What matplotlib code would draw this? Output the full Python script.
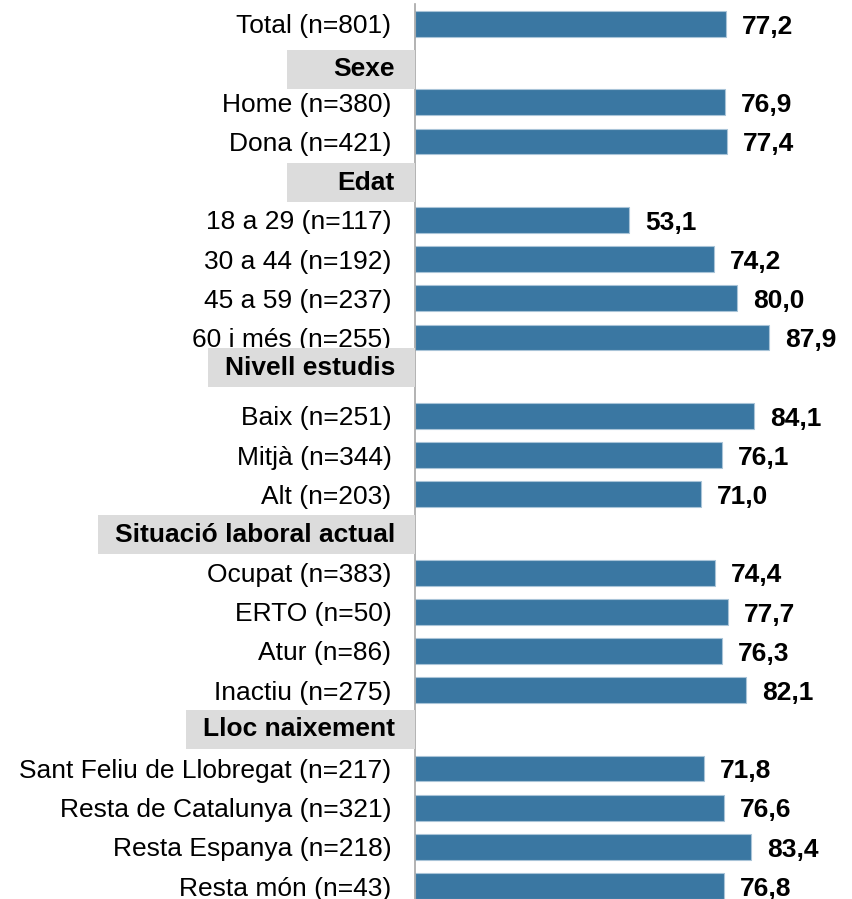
import matplotlib
matplotlib.use("Agg")
import matplotlib.pyplot as plt
from matplotlib.patches import Rectangle
from matplotlib.transforms import blended_transform_factory

plt.rcParams['font.family'] = ['Liberation Sans', 'DejaVu Sans']

# data
total_label = "Total (n=801)"
total_value = 77.2

group_names = ["Sexe", "Edat", "Nivell estudis", "Situació laboral actual", "Lloc naixement"]
sexe_labels = ["Home (n=380)", "Dona (n=421)"]
sexe_values = [76.9, 77.4]
edat_labels = ["18 a 29 (n=117)", "30 a 44 (n=192)", "45 a 59 (n=237)", "60 i més (n=255)"]
edat_values = [53.1, 74.2, 80.0, 87.9]
estudis_labels = ["Baix (n=251)", "Mitjà (n=344)", "Alt (n=203)"]
estudis_values = [84.1, 76.1, 71.0]
laboral_labels = ["Ocupat (n=383)", "ERTO (n=50)", "Atur (n=86)", "Inactiu (n=275)"]
laboral_values = [74.4, 77.7, 76.3, 82.1]
naix_labels = ["Sant Feliu de Llobregat (n=217)", "Resta de Catalunya (n=321)",
               "Resta Espanya (n=218)", "Resta món (n=43)"]
naix_values = [71.8, 76.6, 83.4, 76.8]

group_labels = [sexe_labels, edat_labels, estudis_labels, laboral_labels, naix_labels]
group_values = [sexe_values, edat_values, estudis_values, laboral_values, naix_values]

# small vertical nudges of the header boxes (in row units)
header_shift = [0.16, 0.05, -0.23, 0.03, 0.0]

BAR = "#3A77A2"
GREY_BOX = "#DCDCDC"
FS = 19

# build row layout: headers take a row of their own
bar_pos, bar_lab, bar_val, head_pos = [0], [total_label], [total_value], []
pos = 1
for lab, val in zip(group_labels, group_values):
    head_pos.append(pos)
    pos += 1
    for l, v in zip(lab, val):
        bar_pos.append(pos); bar_lab.append(l); bar_val.append(v)
        pos += 1
n_rows = pos

W, H = 853, 899
fig = plt.figure(figsize=(W / 100, H / 100), dpi=100)
ax_left, ax_right, ax_top = 415, 850, 4.4
ax = fig.add_axes([ax_left / W, 0, (ax_right - ax_left) / W, (H - ax_top) / H])

ax.barh(bar_pos, bar_val, height=0.66, color=BAR, edgecolor="#A9C4D8", linewidth=0.8, zorder=2)
for y, v in zip(bar_pos, bar_val):
    ax.annotate(f"{v:.1f}".replace(".", ","), (v, y), xytext=(11.5, -2),
                textcoords="offset points", ha="left", va="center",
                fontsize=FS, fontweight="bold", color="black")

ax.set_xlim(0, 108)
ax.set_ylim(n_rows - 1 + 0.33, -0.5)
ax.set_yticks(bar_pos)
ax.set_yticklabels(bar_lab, fontsize=FS)
ax.tick_params(axis="y", length=0, pad=17)
ax.set_xticks([])
for s in ["top", "right", "bottom"]:
    ax.spines[s].set_visible(False)
ax.spines["left"].set_color("#A6A6A6")
ax.spines["left"].set_linewidth(1.2)

# group headers with grey boxes reaching the axis line
trans = blended_transform_factory(ax.transAxes, ax.transData)
ax_w = ax_right - ax_left
fig.canvas.draw()
renderer = fig.canvas.get_renderer()
for name, p, sh in zip(group_names, head_pos, header_shift):
    y = p + sh
    t = ax.text(-20 / ax_w, y, name, transform=trans, ha="right", va="center",
                fontsize=FS, fontweight="bold", clip_on=False, zorder=5)
    bb = t.get_window_extent(renderer)
    left_px = min(bb.x0 - 17, ax_left - 128)
    x0 = (left_px - ax_left) / ax_w
    ax.add_patch(Rectangle((x0, y - 0.49), -x0, 0.98, transform=trans,
                           facecolor=GREY_BOX, edgecolor="none", clip_on=False, zorder=4))

fig.savefig("out.png", dpi=100)
